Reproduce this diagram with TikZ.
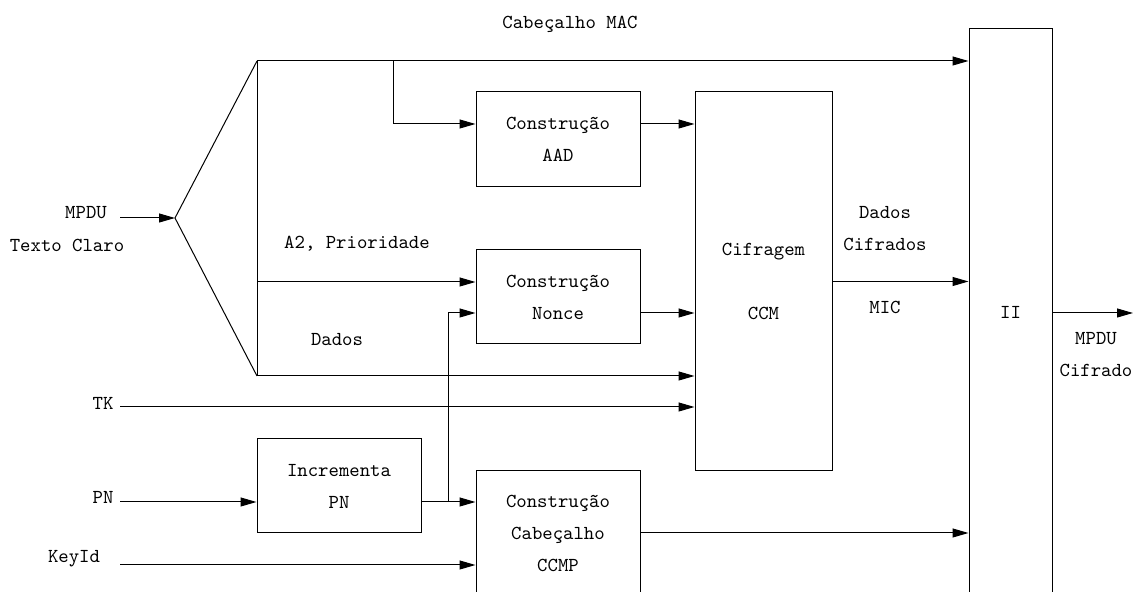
\documentclass[tikz,border=0pt]{standalone}
\usepackage{fontspec}
\usetikzlibrary{arrows.meta}

\begin{document}
\begin{tikzpicture}[x=0.5pt, y=-0.5pt, >={Triangle[length=8pt,width=4.5pt]}, line width=0.5pt,
        every node/.style={font=\ttfamily\fontsize{9.9}{16}\selectfont},
        blk/.style={draw, inner sep=0pt, align=center}]
        \useasboundingbox (0,0) rectangle (1137,592);
        \clip (0,0) rectangle (1137,592);

        % blocos
        \node[blk, minimum width=82pt, minimum height=47.5pt] (aad) at (558,139.5) {Construção\\AAD};
        \node[blk, minimum width=82pt, minimum height=47pt] (nonce) at (558,297) {Construção\\Nonce};
        \node[blk, minimum width=68.5pt, minimum height=189.5pt] (ccm) at (763.5,281.5) {Cifragem\\[16pt]CCM};
        \node[blk, minimum width=41.5pt, minimum height=283pt] (ii) at (1010.5,312) {II};
        \node[blk, minimum width=82pt, minimum height=47pt] (incpn) at (339,486) {Incrementa\\PN};
        \node[blk, minimum width=82pt, minimum height=62pt] (ccmp) at (558,533) {Construção\\Cabeçalho\\CCMP};

        % rotulos
        \node (lmac) at (570,24) {Cabeçalho MAC};
        \node (lmpdu) at (86,213) {MPDU};
        \node (ltexto) at (67,245) {Texto Claro};
        \node (la2) at (357,244) {A2, Prioridade};
        \node (ldados) at (337,340) {Dados};
        \node (ltk) at (103,403) {TK};
        \node (lpn) at (103,497) {PN};
        \node (lkeyid) at (74,559) {KeyId};
        \node[align=center] (lcif) at (885,229) {Dados\\Cifrados};
        \node (lmic) at (885,307) {MIC};
        \node[align=center] (lout) at (1096,355) {MPDU\\Cifrado};

        % pontos
        \coordinate (in) at (120,218);
        \coordinate (split) at (175,218);
        \coordinate (top) at (257,61);
        \coordinate (a2) at (257,282);
        \coordinate (bot) at (257,376);
        \coordinate (brk) at (393,124);
        \coordinate (brn) at (448,313);
        \coordinate (tkin) at (120,407);
        \coordinate (pnin) at (120,502);
        \coordinate (keyin) at (120,565);
        \coordinate (out) at (1133,313);

        \draw[->] (in) -- (split);
        \draw (top) -- (split) -- (bot);
        \draw (top) -- (bot);
        \draw[->] (top) -- (top -| ii.west);
        \draw[->] (brk |- top) -- (brk) -- (brk -| aad.west);
        \draw[->] (brk -| aad.east) -- (brk -| ccm.west);
        \draw[->] (a2) -- (a2 -| nonce.west);
        \draw[->] (brn -| nonce.east) -- (brn -| ccm.west);
        \draw[->] (bot) -- (bot -| ccm.west);
        \draw[->] (tkin) -- (tkin -| ccm.west);
        \draw[->] (pnin) -- (pnin -| incpn.west);
        \draw[->] (pnin -| incpn.east) -- (pnin -| ccmp.west);
        \draw[->] (brn |- pnin) -- (brn) -- (brn -| nonce.west);
        \draw[->] (keyin) -- (keyin -| ccmp.west);
        \draw[->] (ccm.east) -- (ccm.east -| ii.west);
        \draw[->] (ccmp.east) -- (ccmp.east -| ii.west);
        \draw[->] (out -| ii.east) -- (out);
    \end{tikzpicture}
\end{document}
